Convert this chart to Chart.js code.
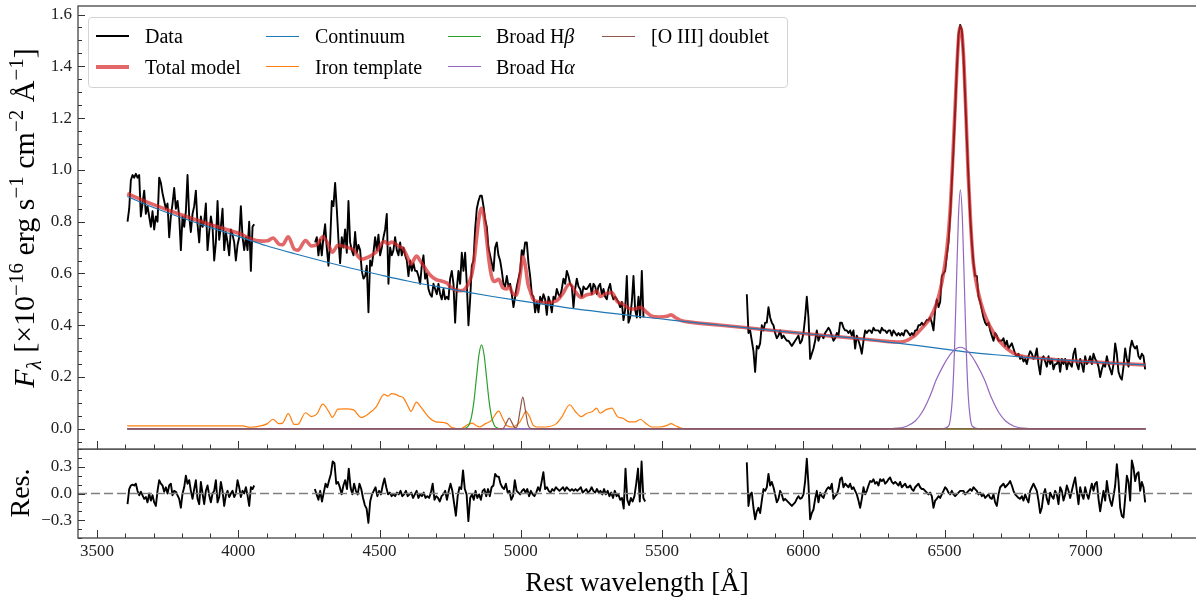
<!DOCTYPE html>
<html>
<head>
<meta charset="utf-8">
<script src="https://cdn.jsdelivr.net/npm/chart.js@4.4.1/dist/chart.umd.min.js"></script>
<style>
  html, body { margin: 0; padding: 0; background: #fff; }
  body { width: 1196px; height: 601px; position: relative; overflow: hidden;
         font-family: 'Liberation Serif', 'Times New Roman', serif; color: #000; }
  canvas { position: absolute; left: 0; }
  #mainChart { top: 0; }
  #resChart { top: 449px; }
  .txt { position: absolute; white-space: nowrap; line-height: 1; }
  .rot { transform: translate(-50%, -50%) rotate(-90deg); }
  .ctr { transform: translate(-50%, -50%); }
  #legendBox { position: absolute; left: 88px; top: 17px; width: 698px; height: 69px;
               border: 1px solid #d3d3d3; border-radius: 4px; background: rgba(255,255,255,0.8); }
  .handle { position: absolute; width: 33px; }
  .ltext { position: absolute; font-size: 20px; line-height: 24px; white-space: nowrap; }
  sup, sub { font-size: 70%; line-height: 0; }
</style>
</head>
<body>
<canvas id="mainChart" width="1196" height="452"></canvas>
<canvas id="resChart" width="1196" height="152"></canvas>

<div id="legendBox"></div>
<div class="handle" style="left:96px;top:35px;height:1.8px;background:#000"></div>
<div class="ltext" style="left:145px;top:24px">Data</div>
<div class="handle" style="left:96px;top:65px;height:3.6px;background:rgba(214,39,40,0.7)"></div>
<div class="ltext" style="left:145px;top:55px">Total model</div>
<div class="handle" style="left:266px;top:36px;height:1.2px;background:#1f77b4"></div>
<div class="ltext" style="left:315px;top:24px">Continuum</div>
<div class="handle" style="left:266px;top:66px;height:1.2px;background:#ff7f0e"></div>
<div class="ltext" style="left:315px;top:55px">Iron template</div>
<div class="handle" style="left:448px;top:36px;height:1.2px;background:#2ca02c"></div>
<div class="ltext" style="left:496px;top:24px">Broad H<i>β</i></div>
<div class="handle" style="left:448px;top:66px;height:1.2px;background:#9467bd"></div>
<div class="ltext" style="left:496px;top:55px">Broad H<i>α</i></div>
<div class="handle" style="left:602px;top:36px;height:1.2px;background:#8c564b"></div>
<div class="ltext" style="left:651px;top:24px">[O III] doublet</div>

<div class="txt rot" style="left:24px;top:218px;font-size:30px"><i>F</i><sub><i>λ</i></sub> [×10<sup>−16</sup> erg s<sup>−1</sup> cm<sup>−2</sup> Å<sup>−1</sup>]</div>
<div class="txt rot" style="left:20px;top:493px;font-size:28px">Res.</div>
<div class="txt ctr" style="left:637px;top:582px;font-size:27px">Rest wavelength [Å]</div>

<script>
// axis ranges and tick labels
const xMin = 3432.7, xMax = 7390;
const xTickLabels = [3500, 4000, 4500, 5000, 5500, 6000, 6500, 7000];
const fluxTickLabels = [0, 0.2, 0.4, 0.6, 0.8, 1.0, 1.2, 1.4, 1.6];
const resTickLabels = [-0.3, 0, 0.3];
const fluxMin = -0.078, fluxMax = 1.633;

// observed spectrum, three chunks on a regular wavelength grid
const seg1Start = 3608, seg2Start = 4272, seg3Start = 5800, fluxStep = 5.9;
const fluxSeg1 = [0.80,0.85,0.96,0.98,0.97,0.985,0.97,0.98,0.82,0.87,
  0.92,0.83,0.86,0.82,0.78,0.84,0.77,0.82,0.80,0.97,
  0.95,0.91,0.88,0.85,0.87,0.74,0.82,0.87,0.93,0.85,
  0.88,0.82,0.69,0.82,0.78,0.84,0.98,0.82,0.76,0.83,
  0.86,0.92,0.79,0.72,0.82,0.78,0.80,0.87,0.69,0.76,
  0.82,0.78,0.65,0.72,0.88,0.73,0.78,0.85,0.69,0.76,
  0.72,0.67,0.77,0.75,0.72,0.65,0.71,0.74,0.86,0.74,
  0.69,0.74,0.69,0.80,0.61,0.78,0.79];
const fluxSeg2 = [0.72,0.74,0.67,0.73,0.67,0.74,0.79,0.70,0.63,0.72,
  0.88,0.86,0.95,0.85,0.73,0.64,0.74,0.70,0.77,0.68,
  0.88,0.72,0.69,0.67,0.76,0.68,0.71,0.69,0.61,0.58,
  0.59,0.63,0.45,0.65,0.63,0.68,0.74,0.69,0.75,0.67,
  0.70,0.74,0.77,0.83,0.56,0.70,0.67,0.69,0.74,0.69,
  0.67,0.72,0.67,0.70,0.67,0.65,0.59,0.65,0.61,0.64,
  0.61,0.61,0.59,0.56,0.63,0.67,0.58,0.60,0.54,0.52,
  0.51,0.56,0.54,0.52,0.56,0.52,0.50,0.54,0.50,0.51,
  0.50,0.58,0.61,0.56,0.41,0.54,0.61,0.56,0.68,0.61,
  0.68,0.56,0.40,0.50,0.63,0.65,0.77,0.85,0.88,0.90,
  0.90,0.86,0.81,0.78,0.70,0.67,0.64,0.61,0.70,0.72,
  0.67,0.65,0.61,0.56,0.55,0.59,0.55,0.56,0.52,0.47,
  0.51,0.55,0.58,0.61,0.69,0.67,0.72,0.72,0.64,0.59,
  0.52,0.51,0.45,0.49,0.45,0.51,0.49,0.52,0.50,0.44,
  0.51,0.49,0.45,0.51,0.50,0.54,0.52,0.51,0.54,0.58,
  0.56,0.61,0.59,0.56,0.55,0.47,0.54,0.58,0.55,0.54,
  0.51,0.55,0.54,0.54,0.55,0.56,0.52,0.56,0.55,0.52,
  0.55,0.56,0.52,0.54,0.51,0.50,0.54,0.56,0.52,0.50,
  0.51,0.50,0.49,0.47,0.49,0.42,0.46,0.59,0.41,0.43,
  0.49,0.59,0.46,0.43,0.51,0.43,0.61,0.43];
const fluxSeg3 = [0.52,0.37,0.38,0.34,0.30,0.22,0.32,0.31,0.33,0.40,
  0.38,0.41,0.41,0.47,0.43,0.41,0.40,0.37,0.35,0.36,
  0.38,0.35,0.36,0.35,0.34,0.34,0.33,0.32,0.33,0.34,
  0.35,0.36,0.33,0.34,0.37,0.43,0.51,0.43,0.27,0.29,
  0.31,0.34,0.38,0.34,0.36,0.36,0.35,0.37,0.38,0.39,
  0.38,0.36,0.34,0.35,0.37,0.36,0.41,0.41,0.39,0.38,
  0.38,0.37,0.38,0.36,0.38,0.31,0.36,0.34,0.32,0.29,
  0.34,0.38,0.37,0.38,0.38,0.37,0.39,0.38,0.38,0.38,
  0.37,0.39,0.38,0.38,0.37,0.38,0.38,0.36,0.38,0.37,
  0.36,0.37,0.36,0.37,0.36,0.38,0.38,0.37,0.36,0.37,
  0.36,0.38,0.38,0.40,0.40,0.41,0.40,0.41,0.42,
  0.42,0.43,0.41,0.38,0.46,0.50,0.47,0.49,0.59,0.60,
  0.61,0.67,0.72,0.82,0.95,1.08,1.23,1.39,1.52,1.56,
  1.54,1.44,1.28,1.12,0.97,0.82,0.72,0.64,0.59,0.59,
  0.51,0.49,0.46,0.43,0.41,0.40,0.41,0.38,0.36,0.34,
  0.37,0.36,0.34,
  0.34,0.34,0.35,0.32,0.34,0.31,0.32,0.33,0.31,0.29,
  0.28,0.29,0.27,0.28,0.26,0.27,0.25,0.28,0.30,0.29,
  0.27,0.28,0.31,0.25,0.21,0.27,0.28,0.26,0.24,0.28,
  0.25,0.27,0.23,0.25,0.25,0.27,0.22,0.27,0.25,0.27,
  0.23,0.26,0.25,0.24,0.29,0.31,0.25,0.23,0.27,0.25,
  0.22,0.28,0.25,0.26,0.28,0.25,0.29,0.27,0.26,0.24,
  0.20,0.23,0.25,0.24,0.28,0.25,0.23,0.21,0.25,0.33,
  0.29,0.22,0.20,0.19,0.24,0.31,0.27,0.24,0.31,0.34,
  0.32,0.31,0.32,0.28,0.27,0.29,0.28,0.23];

// residuals (data - model)
const resSeg1Start = 3608, resSeg2Start = 4271, resSeg3Start = 5800;
const resStep1 = 5.9, resStep2 = 6.32, resStep3 = 5.9;
const resSeg1 = [-0.12,0.05,0.09,0.10,0.09,0.11,0.03,-0.02,0.02,-0.02,
  -0.06,-0.04,-0.10,0.00,-0.08,-0.02,-0.10,-0.14,0.03,0.15,
  0.11,0.09,0.02,0.07,0.00,0.09,0.11,-0.02,0.03,0.02,
  -0.02,-0.06,-0.16,0.00,0.07,0.20,0.11,0.15,0.03,-0.06,
  0.05,0.15,-0.06,-0.12,0.13,0.00,-0.12,0.03,0.09,-0.02,
  -0.10,0.00,0.03,0.15,-0.10,-0.04,0.13,0.03,-0.14,-0.02,
  0.03,-0.04,0.00,0.03,-0.04,0.00,0.15,0.07,-0.04,0.03,
  0.00,0.07,-0.02,-0.14,0.07,0.05,0.09];
const resSeg2 = [0.05,-0.01,-0.07,0.03,-0.09,0.01,0.11,0.07,0.15,0.22,
  0.36,0.34,0.11,0.13,0.07,-0.01,0.09,0.15,0.05,0.28,
  0.07,-0.01,0.11,0.03,-0.01,0.11,0.05,-0.05,-0.13,-0.17,
  -0.33,-0.09,-0.01,0.03,0.07,-0.03,0.03,-0.01,0.09,0.17,
  0.07,-0.01,0.01,-0.03,-0.01,-0.03,0.01,-0.01,0.03,-0.03,
  -0.01,0.03,-0.03,-0.01,0.01,-0.05,-0.01,0.03,-0.05,-0.01,
  -0.03,0.01,-0.05,-0.03,-0.05,0.01,0.11,-0.07,-0.03,-0.05,
  -0.09,-0.03,-0.01,0.03,-0.07,0.03,0.11,0.03,-0.11,-0.25,
  -0.03,0.07,0.05,0.26,0.05,-0.01,-0.31,-0.05,-0.01,-0.07,
  0.03,-0.05,-0.01,-0.07,0.03,0.05,-0.03,0.05,-0.03,0.07,
  0.09,0.22,0.19,0.19,0.11,0.07,0.05,0.11,0.01,0.03,
  -0.07,-0.03,0.15,0.03,0.01,-0.01,0.03,0.05,0.01,0.05,
  -0.03,0.03,-0.01,-0.03,0.01,0.07,0.03,0.13,0.24,0.05,
  0.07,0.03,0.01,0.05,0.03,0.07,0.05,0.03,0.05,0.07,
  0.03,0.07,0.05,0.03,0.05,0.03,0.05,0.03,0.05,0.07,
  0.01,0.03,0.05,0.01,0.03,0.07,0.03,0.01,0.05,0.01,
  0.03,-0.01,0.05,-0.01,0.03,-0.03,0.01,-0.05,0.03,-0.03,
  -0.01,-0.07,-0.05,-0.17,0.28,-0.07,-0.13,-0.05,-0.09,-0.03,
  0.11,0.28,-0.09,0.36,-0.05,-0.09];
const resSeg3 = [0.35,-0.14,-0.01,0.01,-0.16,-0.29,-0.20,-0.16,-0.22,-0.08,
  0.05,0.03,0.07,0.22,0.09,0.13,0.07,-0.01,-0.10,-0.06,
  0.03,-0.01,-0.08,-0.06,-0.08,-0.10,-0.12,-0.14,-0.12,-0.10,
  -0.06,-0.03,-0.06,-0.05,-0.01,0.14,0.39,0.10,-0.29,-0.22,
  -0.18,-0.06,0.03,-0.10,0.01,-0.03,-0.05,0.01,0.05,0.07,
  0.05,0.11,-0.06,-0.03,-0.01,0.05,0.16,0.18,0.07,0.11,
  0.09,0.07,0.11,0.05,0.07,0.03,-0.01,-0.08,-0.16,-0.06,
  0.07,-0.01,0.03,0.09,0.14,0.13,0.16,0.11,0.13,0.09,
  0.16,0.14,0.16,0.11,0.13,0.16,0.18,0.13,0.11,0.13,
  0.11,0.09,0.13,0.07,0.09,0.11,0.07,0.07,0.09,0.05,
  0.03,0.07,0.09,0.11,0.07,0.05,0.05,0.03,0.01,-0.01,
  0.01,-0.03,-0.16,-0.08,-0.06,-0.03,-0.05,-0.01,0.03,0.07,
  0.05,0.01,-0.01,0.03,-0.01,-0.03,-0.01,0.01,0.03,0.03,
  0.03,-0.01,0.01,0.03,0.05,0.03,0.07,0.05,0.03,-0.01,
  0.01,-0.03,-0.01,-0.05,-0.03,-0.01,-0.05,-0.06,-0.01,-0.10,
  -0.14,-0.01,0.07,0.09,0.11,0.07,0.09,0.11,0.14,0.09,
  0.03,-0.01,-0.03,-0.05,-0.06,-0.03,-0.08,-0.01,-0.06,-0.10,
  0.03,0.07,0.11,0.07,0.03,-0.08,-0.22,-0.16,-0.01,0.05,
  -0.06,-0.12,0.01,-0.03,-0.06,0.03,-0.01,-0.12,0.07,0.03,
  -0.08,-0.01,0.09,0.03,-0.05,0.03,0.11,0.18,0.03,-0.12,
  0.07,-0.01,-0.06,0.07,-0.01,-0.06,0.03,0.11,0.03,0.11,
  0.13,-0.06,-0.20,-0.08,0.03,-0.08,0.14,0.01,-0.08,-0.14,
  -0.03,0.09,0.33,0.14,-0.16,-0.25,-0.27,-0.05,0.20,0.13,
  -0.08,0.37,0.29,0.14,0.22,0.24,0.03,0.13,0.07,-0.10];

// model curves as [wavelength, flux] knots
const totalModel = [[3607,0.908],[3700,0.866],[3800,0.826],[3900,0.789],[4015,0.749],[4042,0.734],
  [4083,0.725],[4103,0.726],[4123,0.737],[4143,0.714],[4157,0.711],[4177,0.742],[4198,0.694],
  [4211,0.690],[4238,0.727],[4259,0.706],[4279,0.712],[4299,0.742],[4320,0.709],[4333,0.682],
  [4353,0.709],[4381,0.702],[4408,0.691],[4435,0.655],[4462,0.664],[4489,0.684],[4516,0.724],
  [4530,0.714],[4543,0.721],[4557,0.714],[4570,0.704],[4584,0.695],[4604,0.650],[4611,0.636],
  [4631,0.667],[4645,0.647],[4658,0.626],[4679,0.594],[4699,0.577],[4719,0.571],[4740,0.562],
  [4753,0.546],[4787,0.533],[4807,0.546],[4825,0.589],[4834,0.644],[4843,0.731],[4852,0.814],
  [4861,0.852],[4870,0.820],[4879,0.734],[4888,0.645],[4897,0.587],[4906,0.569],[4922,0.577],
  [4936,0.545],[4950,0.540],[4959,0.550],[4970,0.525],[4983,0.516],[4989,0.532],[4998,0.595],
  [5007,0.665],[5016,0.631],[5025,0.562],[5034,0.530],[5044,0.500],[5058,0.492],[5085,0.487],
  [5126,0.494],[5146,0.518],[5173,0.559],[5193,0.530],[5214,0.507],[5234,0.518],[5254,0.522],
  [5268,0.533],[5281,0.511],[5302,0.523],[5322,0.526],[5342,0.491],[5363,0.481],[5383,0.465],
  [5403,0.463],[5424,0.469],[5444,0.451],[5464,0.435],[5491,0.432],[5518,0.435],[5532,0.440],
  [5546,0.431],[5566,0.419],[5600,0.412],[5700,0.401],[5800,0.390],[5900,0.379],[6000,0.368],
  [6100,0.358],[6200,0.348],[6272,0.340],[6343,0.335],[6390,0.356],[6425,0.395],[6449,0.428],
  [6472,0.485],[6490,0.563],[6508,0.691],[6520,0.846],[6529,1.040],[6537,1.232],[6545,1.425],
  [6551,1.528],[6556,1.553],[6562,1.521],[6569,1.399],[6576,1.206],[6584,0.975],[6593,0.781],
  [6602,0.640],[6620,0.524],[6638,0.453],[6661,0.395],[6696,0.337],[6744,0.292],[6791,0.277],
  [6862,0.270],[6909,0.265],[7000,0.260],[7100,0.253],[7212,0.247]];
const continuum = [[3607,0.897],[3700,0.855],[3800,0.815],[3900,0.778],[4000,0.743],[4100,0.707],
  [4200,0.676],[4300,0.647],[4400,0.620],[4500,0.595],[4600,0.571],[4700,0.550],[4800,0.530],
  [4900,0.511],[5000,0.494],[5100,0.478],[5200,0.462],[5300,0.449],[5400,0.436],[5500,0.424],
  [5600,0.412],[5700,0.401],[5800,0.390],[5900,0.379],[6000,0.368],[6100,0.358],[6200,0.348],
  [6300,0.335],[6400,0.322],[6500,0.308],[6600,0.294],[6700,0.284],[6800,0.275],[6900,0.267],
  [7000,0.260],[7100,0.253],[7212,0.247]];
const ironTemplate = [[3607,0.011],[4015,0.011],[4042,0.006],[4083,0.012],[4103,0.020],[4123,0.037],
  [4143,0.020],[4157,0.022],[4177,0.059],[4198,0.017],[4211,0.017],[4238,0.062],[4259,0.047],
  [4279,0.059],[4299,0.095],[4320,0.067],[4333,0.044],[4353,0.076],[4381,0.077],[4408,0.073],
  [4435,0.044],[4462,0.059],[4489,0.086],[4516,0.133],[4530,0.126],[4543,0.136],[4557,0.133],
  [4570,0.126],[4584,0.120],[4604,0.080],[4611,0.067],[4631,0.103],[4645,0.086],[4658,0.067],
  [4679,0.040],[4699,0.027],[4719,0.025],[4740,0.020],[4753,0.007],[4787,0.000],[4807,0.013],
  [4828,0.022],[4841,0.013],[4855,0.007],[4875,0.020],[4895,0.031],[4922,0.068],[4936,0.040],
  [4950,0.013],[4970,0.007],[4983,0.013],[4997,0.027],[5010,0.053],[5017,0.068],[5031,0.047],
  [5044,0.013],[5058,0.007],[5085,0.007],[5126,0.020],[5146,0.047],[5173,0.093],[5193,0.067],
  [5214,0.047],[5234,0.060],[5254,0.067],[5268,0.080],[5281,0.060],[5302,0.074],[5322,0.080],
  [5342,0.047],[5363,0.040],[5383,0.027],[5403,0.027],[5424,0.036],[5444,0.020],[5464,0.007],
  [5491,0.007],[5518,0.013],[5532,0.020],[5546,0.013],[5566,0.003],[5590,0],[7212,0]];
const broadHbeta = [[3607,0],[4790,0],[4807,0.004],[4816,0.014],[4825,0.044],[4834,0.105],[4843,0.197],
  [4852,0.286],[4861,0.324],[4870,0.286],[4879,0.197],[4888,0.105],[4897,0.044],[4906,0.014],
  [4915,0.004],[4932,0],[7212,0]];
const broadHalphaNarrow = [[3607,0],[6490,0],[6514,0.010],[6521,0.041],[6528,0.125],[6535,0.300],
  [6542,0.560],[6549,0.815],[6556,0.923],[6563,0.815],[6570,0.560],[6577,0.300],[6584,0.125],
  [6591,0.041],[6598,0.010],[6622,0],[7212,0]];
const broadHalphaWide = [[3607,0],[6276,0],[6316,0.001],[6366,0.010],[6396,0.030],[6421,0.065],
  [6446,0.120],[6471,0.190],[6496,0.245],[6526,0.295],[6556,0.315],[6586,0.295],[6616,0.245],
  [6641,0.190],[6666,0.120],[6691,0.065],[6716,0.030],[6746,0.010],[6796,0.001],[6836,0],[7212,0]];
const oiiiDoublet = [[3607,0],[4935,0],[4941,0.006],[4950,0.025],[4959,0.041],[4968,0.025],[4977,0.006],
  [4983,0.004],[4989,0.017],[4998,0.074],[5007,0.122],[5016,0.074],[5025,0.017],[5034,0.002],
  [5045,0],[7212,0]];

// ---- helpers ----
function gridPoints(start, step, values) {
  return values.map((v, i) => ({ x: start + i * step, y: v }));
}
function knots(pairs) {
  return pairs.map(p => ({ x: p[0], y: p[1] }));
}
function withGaps(parts) {
  const out = [];
  parts.forEach((p, i) => {
    if (i > 0) out.push({ x: p[0].x - 1, y: null });
    out.push(...p);
  });
  return out;
}
function minorList(from, to, step) {
  const out = [];
  for (let v = from; v <= to + 1e-9; v += step) out.push(Math.round(v * 1000) / 1000);
  return out;
}

Chart.defaults.font.family = "'Liberation Serif', 'Times New Roman', serif";
Chart.defaults.color = '#111';

// frame and inward ticks, as in the matplotlib figure
const frameTicks = {
  id: 'frameTicks',
  afterDatasetsDraw(chart, args, o) {
    const { ctx, chartArea: a } = chart;
    const xs = chart.scales.x, ys = chart.scales.y;
    ctx.save();
    ctx.strokeStyle = '#333';
    ctx.lineWidth = 1;
    ctx.beginPath();
    o.xMajor.forEach(v => { const p = Math.round(xs.getPixelForValue(v)) + 0.5;
      ctx.moveTo(p, a.bottom); ctx.lineTo(p, a.bottom - 8); });
    o.xMinor.forEach(v => { const p = Math.round(xs.getPixelForValue(v)) + 0.5;
      ctx.moveTo(p, a.bottom); ctx.lineTo(p, a.bottom - 4.5); });
    o.yMajor.forEach(v => { const p = Math.round(ys.getPixelForValue(v)) + 0.5;
      ctx.moveTo(a.left, p); ctx.lineTo(a.left + 7, p); });
    o.yMinor.forEach(v => { const p = Math.round(ys.getPixelForValue(v)) + 0.5;
      ctx.moveTo(a.left, p); ctx.lineTo(a.left + 4, p); });
    ctx.stroke();
    ctx.lineWidth = 1.3;
    ctx.strokeStyle = '#444';
    ctx.strokeRect(a.left, a.top, a.right - a.left + 2, a.bottom - a.top);
    ctx.restore();
  }
};

const xMinor = minorList(3500, 7300, 100);

function line(data, color, width, order, smooth) {
  return {
    data: data, borderColor: color, borderWidth: width, order: order,
    pointRadius: 0, fill: false, spanGaps: false, borderJoinStyle: 'round',
    cubicInterpolationMode: smooth ? 'monotone' : 'default', tension: 0
  };
}

const fluxData = withGaps([
  gridPoints(seg1Start, fluxStep, fluxSeg1),
  gridPoints(seg2Start, fluxStep, fluxSeg2),
  gridPoints(seg3Start, fluxStep, fluxSeg3)
]);
const resData = withGaps([
  gridPoints(resSeg1Start, resStep1, resSeg1),
  gridPoints(resSeg2Start, resStep2, resSeg2),
  gridPoints(resSeg3Start, resStep3, resSeg3)
]);

new Chart(document.getElementById('mainChart'), {
  type: 'line',
  data: {
    datasets: [
      line(fluxData, '#000', 1.9, 10, false),
      line(knots(totalModel), 'rgba(214,39,40,0.7)', 3.6, 9, true),
      line(knots(continuum), '#1f77b4', 1.2, 6, true),
      line(knots(ironTemplate), '#ff7f0e', 1.2, 5, true),
      line(knots(broadHbeta), '#2ca02c', 1.2, 4, true),
      line(knots(broadHalphaWide), '#9467bd', 1.2, 3, true),
      line(knots(broadHalphaNarrow), '#9467bd', 1.2, 3, true),
      line(knots(oiiiDoublet), '#8c564b', 1.2, 1, true)
    ]
  },
  options: {
    responsive: false, animation: false, devicePixelRatio: 1, events: [],
    layout: { padding: { top: 6, bottom: 3, left: 0, right: 0 } },
    plugins: {
      legend: { display: false }, tooltip: { enabled: false },
      frameTicks: { xMajor: xTickLabels, xMinor: xMinor, yMajor: fluxTickLabels,
                    yMinor: minorList(-0.05, 1.6, 0.05) }
    },
    scales: {
      x: { type: 'linear', min: xMin, max: xMax, display: false },
      y: {
        type: 'linear', min: fluxMin, max: fluxMax,
        grid: { display: false, drawTicks: false }, border: { display: false },
        afterBuildTicks: s => { s.ticks = fluxTickLabels.map(v => ({ value: v })); },
        afterFit: s => { s.width = 78; s.paddingTop = 0; s.paddingBottom = 0; },
        ticks: { padding: 6, font: { size: 17 }, color: '#222', callback: v => v.toFixed(1) }
      }
    }
  },
  plugins: [frameTicks]
});

new Chart(document.getElementById('resChart'), {
  type: 'line',
  data: {
    datasets: [
      line(resData, '#000', 1.9, 5, false),
      Object.assign(line([{ x: xMin, y: 0 }, { x: xMax, y: 0 }], '#7f7f7f', 1.4, 1, false),
                    { borderDash: [9, 4] })
    ]
  },
  options: {
    responsive: false, animation: false, devicePixelRatio: 1, events: [],
    layout: { padding: 0 },
    plugins: {
      legend: { display: false }, tooltip: { enabled: false },
      frameTicks: { xMajor: xTickLabels, xMinor: xMinor, yMajor: resTickLabels,
                    yMinor: minorList(-0.5, 0.5, 0.1) }
    },
    scales: {
      x: {
        type: 'linear', min: xMin, max: xMax,
        grid: { display: false, drawTicks: false }, border: { display: false },
        afterBuildTicks: s => { s.ticks = xTickLabels.map(v => ({ value: v })); },
        afterFit: s => { s.height = 63; s.paddingLeft = 0; s.paddingRight = 0; },
        ticks: { padding: 3, autoSkip: false, maxRotation: 0, font: { size: 17 }, color: '#222',
                 callback: v => String(v) }
      },
      y: {
        type: 'linear', min: -0.5, max: 0.5,
        grid: { display: false, drawTicks: false }, border: { display: false },
        afterBuildTicks: s => { s.ticks = resTickLabels.map(v => ({ value: v })); },
        afterFit: s => { s.width = 78; s.paddingTop = 0; s.paddingBottom = 0; },
        ticks: { padding: 6, font: { size: 17 }, color: '#222',
                 callback: v => (v < 0 ? '\u2212' : '') + Math.abs(v).toFixed(1) }
      }
    }
  },
  plugins: [frameTicks]
});
</script>
</body>
</html>
